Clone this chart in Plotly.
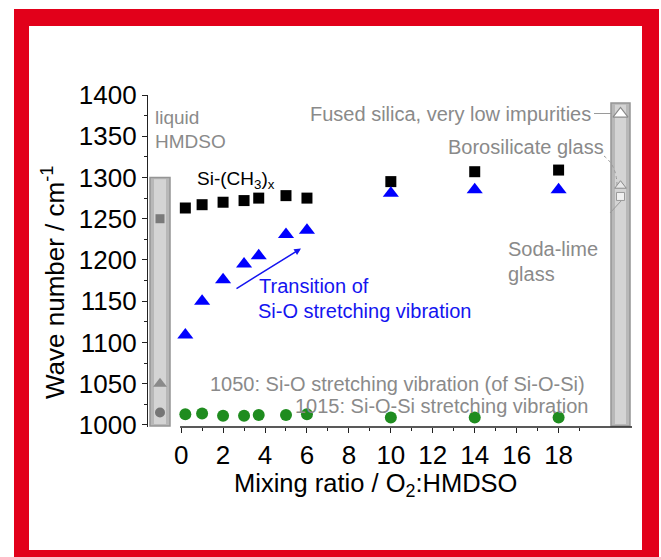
import plotly.graph_objects as go

# ---------------- data ----------------
ratio = [0.2, 1, 2, 3, 3.7, 5, 6, 10, 14, 18]
si_ch3 = [1263, 1267, 1270, 1272, 1275, 1278, 1275, 1295, 1307, 1309]
si_o = [1109, 1150, 1176, 1195, 1205, 1231, 1236, 1281, 1285, 1285]
si_o_si = [1013, 1014, 1011, 1011, 1012, 1012, 1013, 1009, 1009, 1009]

liquid_ref = [1250, 1050, 1015]          # liquid HMDSO: Si-CH3, Si-O, Si-O-Si
glass_ref = [1377, 1290, 1277]           # fused silica, borosilicate, soda-lime

x_ticks = [0, 2, 4, 6, 8, 10, 12, 14, 16, 18]
x_minor = [1, 3, 5, 7, 9, 11, 13, 15, 17, 19]
y_ticks = [1000, 1050, 1100, 1150, 1200, 1250, 1300, 1350, 1400]
y_minor = [1025, 1075, 1125, 1175, 1225, 1275, 1325, 1375]

# ---------------- geometry ----------------
W, H = 661, 557
L, R, T, B = 148, 29, 95, 130
XR = [-1.58, 21.5]
YR = [997.5, 1400]
PW, PH = W - L - R, H - T - B


def dx(px):
    return XR[0] + (px - L) / PW * (XR[1] - XR[0])


def dy(py):
    return YR[1] - (py - T) / PH * (YR[1] - YR[0])


def ppx(px):
    return (px - L) / PW


def ppy(py):
    return (H - B - py) / PH


FONT = "Liberation Sans, Arial, sans-serif"
GRAY = "#8a8a8a"
BLUE = "#0000ff"
GREEN = "#1f8c1f"
TBLUE = "#1414f0"

fig = go.Figure()

# main series
fig.add_trace(go.Scatter(x=ratio, y=si_ch3, mode="markers", name="Si-CH3",
                         marker=dict(symbol="square", size=11, color="black")))
fig.add_trace(go.Scatter(x=ratio, y=si_o, mode="markers", name="Si-O",
                         marker=dict(symbol="triangle-up", size=14, color=BLUE)))
fig.add_trace(go.Scatter(x=ratio, y=si_o_si, mode="markers", name="Si-O-Si",
                         marker=dict(symbol="circle", size=12, color=GREEN)))

# liquid HMDSO reference markers (left bar)
lx = dx(160)
fig.add_trace(go.Scatter(x=[lx], y=[liquid_ref[0]], mode="markers",
                         marker=dict(symbol="square", size=9, color="#7a7a7a")))
fig.add_trace(go.Scatter(x=[lx], y=[liquid_ref[1]], mode="markers",
                         marker=dict(symbol="triangle-up", size=12, color="#8a8a8a")))
fig.add_trace(go.Scatter(x=[lx], y=[liquid_ref[2]], mode="markers",
                         marker=dict(symbol="circle", size=10, color="#767676")))

# glass reference markers (right bar)
rx = dx(620.5)
fig.add_trace(go.Scatter(x=[rx], y=[glass_ref[0]], mode="markers",
                         marker=dict(symbol="triangle-up", size=13, color="white",
                                     line=dict(color="#8a8a8a", width=1.2))))
fig.add_trace(go.Scatter(x=[rx], y=[glass_ref[1]], mode="markers",
                         marker=dict(symbol="triangle-up", size=10, color="#e8e8e8",
                                     line=dict(color="#8a8a8a", width=1))))
fig.add_trace(go.Scatter(x=[rx], y=[glass_ref[2]], mode="markers",
                         marker=dict(symbol="square", size=8, color="#f0f0f0",
                                     line=dict(color="#9a9a9a", width=1))))

shapes = []
# red frame
shapes.append(dict(type="rect", xref="paper", yref="paper", layer="below",
                   x0=ppx(14), x1=ppx(659), y0=ppy(560), y1=ppy(9),
                   fillcolor="#e2001a", line=dict(width=0)))
shapes.append(dict(type="rect", xref="paper", yref="paper", layer="below",
                   x0=ppx(29), x1=ppx(642), y0=ppy(550), y1=ppy(26),
                   fillcolor="white", line=dict(width=0)))

# gray reference bars
for (a, b, top) in [(150, 170, 1300), (611, 630, dy(103))]:
    shapes.append(dict(type="rect", xref="x", yref="y", layer="below",
                       x0=dx(a), x1=dx(b), y0=dy(426), y1=top,
                       fillcolor="#b8b8b8", line=dict(color="#959595", width=1.5)))
    shapes.append(dict(type="rect", xref="x", yref="y", layer="below",
                       x0=dx(a + 4), x1=dx(b - 4), y0=dy(424), y1=top - 2,
                       fillcolor="#d4d4d4", line=dict(width=0)))

# x axis line starting at 0
shapes.append(dict(type="line", xref="x", yref="paper", x0=-0.05, x1=XR[1], y0=0, y1=0,
                   line=dict(color="#222", width=1.3)))

# leader lines on the right
shapes.append(dict(type="line", xref="x", yref="y", x0=dx(594), x1=dx(612),
                   y0=dy(113.5), y1=dy(113.5), line=dict(color="#9a9a9a", width=1)))
shapes.append(dict(type="path", xref="x", yref="y",
                   path=f"M {dx(604)},{dy(156)} Q {dx(617)},{dy(166)} {dx(617)},{dy(186)}",
                   line=dict(color="#9a9a9a", width=1, dash="dot")))
shapes.append(dict(type="line", xref="x", yref="y", x0=dx(610), x1=dx(621),
                   y0=dy(213), y1=dy(201), line=dict(color="#9a9a9a", width=1)))

ann = []


def text(t, px, py, anchor="left", color=GRAY, size=20):
    ann.append(dict(text=t, x=dx(px), y=dy(py), xref="x", yref="y", showarrow=False,
                    xanchor=anchor, yanchor="middle",
                    font=dict(family=FONT, size=size, color=color)))


text("liquid", 153, 117, size=19)
text("HMDSO", 153, 141, size=19)
text("Si-(CH<sub>3</sub>)<sub>x</sub>", 195, 180, color="black", size=19)
text("1250: Si-CH<sub>3</sub>", 146, 235, size=19)
text("Transition of", 257, 286, color=TBLUE)
text("Si-O stretching vibration", 256, 311, color=TBLUE)
text("Fused silica, very low impurities", 593, 114, anchor="right")
text("Borosilicate glass", 606, 147, anchor="right")
text("Soda-lime", 506, 249)
text("glass", 506, 274)
text("1050: Si-O stretching vibration (of Si-O-Si)", 587, 384, anchor="right")
text("1015: Si-O-Si stretching vibration", 590, 406, anchor="right")

# arrow
ann.append(dict(text="", x=dx(301), y=dy(248.5), ax=dx(235), ay=dy(289.5),
                xref="x", yref="y", axref="x", ayref="y", showarrow=True,
                arrowhead=2, arrowsize=0.9, arrowwidth=1.5, arrowcolor=TBLUE,
                standoff=0, startstandoff=0))

# axis titles
ann.append(dict(text="Wave number / cm<sup>-1</sup>", x=ppx(53), y=ppy(283),
                xref="paper", yref="paper", showarrow=False, textangle=-90,
                xanchor="center", yanchor="middle",
                font=dict(family=FONT, size=26, color="black")))
ann.append(dict(text="Mixing ratio / O<sub>2</sub>:HMDSO", x=ppx(375), y=ppy(484.5),
                xref="paper", yref="paper", showarrow=False,
                xanchor="center", yanchor="middle",
                font=dict(family=FONT, size=25.5, color="black")))

fig.update_layout(
    width=W, height=H, autosize=False,
    margin=dict(l=L, r=R, t=T, b=B, pad=0),
    paper_bgcolor="white", plot_bgcolor="rgba(0,0,0,0)",
    showlegend=False,
    shapes=shapes, annotations=ann,
    font=dict(family=FONT, color="black"),
)
fig.update_xaxes(range=XR, showgrid=False, zeroline=False, showline=False,
                 tickmode="array", tickvals=x_ticks, ticktext=[str(v) for v in x_ticks],
                 ticks="outside", ticklen=5, tickwidth=1.2, tickcolor="#222",
                 tickfont=dict(family=FONT, size=26, color="black"),
                 minor=dict(tickmode="array", tickvals=x_minor, ticks="outside",
                            ticklen=3, tickcolor="#222"))
fig.update_yaxes(range=YR, showgrid=False, zeroline=False, showline=True,
                 linecolor="#222", linewidth=1.3,
                 tickmode="array", tickvals=y_ticks, ticktext=[str(v) for v in y_ticks],
                 ticks="outside", ticklen=5, tickwidth=1.2, tickcolor="#222",
                 ticklabelstandoff=0,
                 tickfont=dict(family=FONT, size=26, color="black"),
                 minor=dict(tickmode="array", tickvals=y_minor, ticks="outside",
                            ticklen=3, tickcolor="#222"))

fig.write_html("out.html", config={"displayModeBar": False},
               post_script="document.body.style.margin='0';document.body.style.overflow='hidden';")
